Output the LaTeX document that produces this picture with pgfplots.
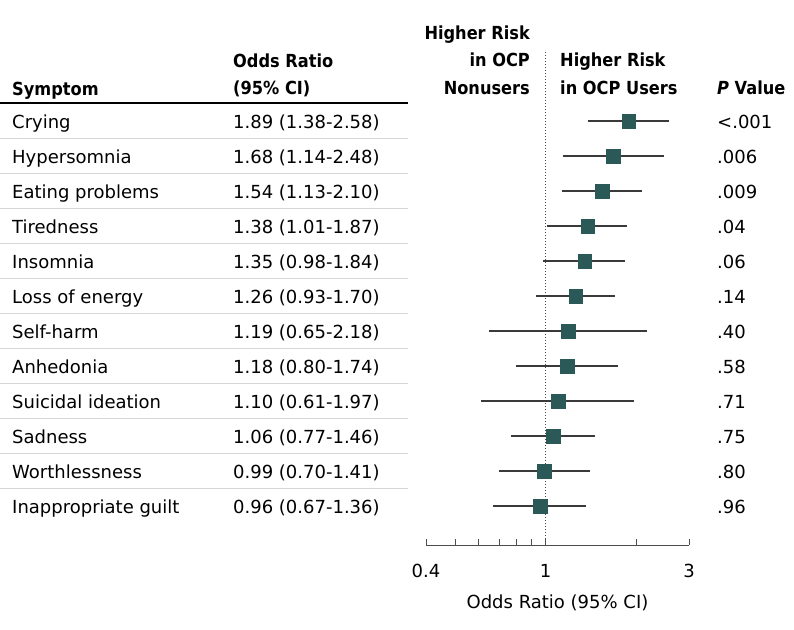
\documentclass[border=0pt]{standalone}
\usepackage{pgfplots}
\pgfplotsset{compat=1.18}
\usepackage{pgfplotstable}
\usepackage{fontspec}
\setmainfont{DejaVu Sans}[BoldFont=DejaVu Sans Bold, BoldFeatures={FakeStretch=0.9}, ItalicFont=DejaVu Sans Oblique, BoldItalicFont=DejaVu Sans Bold Oblique, BoldItalicFeatures={FakeStretch=0.9}]
\definecolor{sq}{HTML}{2A5957}
\definecolor{ci}{HTML}{3A3A3A}
\definecolor{sep}{HTML}{D6D6D6}
\pgfplotstableread{
y or lo hi
12 1.89 1.38 2.58
11 1.68 1.14 2.48
10 1.54 1.13 2.10
9 1.38 1.01 1.87
8 1.35 0.98 1.84
7 1.26 0.93 1.70
6 1.19 0.65 2.18
5 1.18 0.80 1.74
4 1.10 0.61 1.97
3 1.06 0.77 1.46
2 0.99 0.70 1.41
1 0.96 0.67 1.36
}\datatable
\begin{document}
\fontsize{18}{22}\selectfont
\begin{tikzpicture}
\useasboundingbox (0,0) rectangle (794pt,-629pt);
% header
\node[anchor=base west, inner sep=0, font=\bfseries] at (12pt,-95pt) {Symptom};
\node[anchor=base west, inner sep=0, font=\bfseries] at (233pt,-67pt) {Odds Ratio};
\node[anchor=base west, inner sep=0, font=\bfseries] at (233pt,-94pt) {(95\% CI)};
\node[anchor=base east, inner sep=0, font=\bfseries] at (530pt,-39pt) {Higher Risk};
\node[anchor=base east, inner sep=0, font=\bfseries] at (530pt,-66pt) {in OCP};
\node[anchor=base east, inner sep=0, font=\bfseries] at (530pt,-94pt) {Nonusers};
\node[anchor=base west, inner sep=0, font=\bfseries] at (560pt,-66pt) {Higher Risk};
\node[anchor=base west, inner sep=0, font=\bfseries] at (560pt,-94pt) {in OCP Users};
\node[anchor=base west, inner sep=0, font=\bfseries] at (717pt,-94pt) {{\itshape P} Value};
\draw[black, line width=2pt] (0,-103pt) -- (408pt,-103pt);
\foreach \k in {0,...,10} {
  \pgfmathsetmacro\yy{-138.5-35*\k}
  \draw[sep, line width=1pt] (0,\yy pt) -- (408pt,\yy pt);
}
\foreach \n/\name/\orr/\p in {
  0/Crying/1.89 (1.38-2.58)/\textless.001,
  1/Hypersomnia/1.68 (1.14-2.48)/.006,
  2/Eating problems/1.54 (1.13-2.10)/.009,
  3/Tiredness/1.38 (1.01-1.87)/.04,
  4/Insomnia/1.35 (0.98-1.84)/.06,
  5/Loss of energy/1.26 (0.93-1.70)/.14,
  6/Self-harm/1.19 (0.65-2.18)/.40,
  7/Anhedonia/1.18 (0.80-1.74)/.58,
  8/Suicidal ideation/1.10 (0.61-1.97)/.71,
  9/Sadness/1.06 (0.77-1.46)/.75,
  10/Worthlessness/0.99 (0.70-1.41)/.80,
  11/Inappropriate guilt/0.96 (0.67-1.36)/.96} {
  \pgfmathsetmacro\yy{-128-35*\n}
  \node[anchor=base west, inner sep=0] at (12pt,\yy pt) {\name};
  \node[anchor=base west, inner sep=0] at (233pt,\yy pt) {\orr};
  \node[anchor=base west, inner sep=0] at (717pt,\yy pt) {\p};
}
\begin{axis}[
  at={(426pt,-545pt)}, anchor=south west,
  scale only axis, width=263pt, height=495pt,
  xmode=log, xmin=0.4, xmax=3,
  ymin=-0.114, ymax=14.03,
  axis y line=none, axis x line*=bottom,
  xtick={0.4,1,3}, xticklabels={0.4,1,3},
  minor xtick={0.5,0.6,0.7,0.8,0.9,2},
  tick align=inside,
  major tick length=6pt, minor tick length=6pt,
  x axis line style={black!70, line width=1pt},
  every tick/.style={black!70, line width=1pt},
  xticklabel style={anchor=base, yshift=-32pt},
  xlabel={Odds Ratio (95\% CI)},
  xlabel style={at={(axis description cs:0.5,0)}, anchor=base, yshift=-63pt},
  clip=false,
]
\addplot[black!70, line width=1pt, dash pattern=on 1.2pt off 1.8pt] coordinates {(1,-0.114) (1,14.03)};
\addplot[ci, line width=1.2pt] coordinates {(1.38,12) (2.58,12)};
\addplot[ci, line width=1.2pt] coordinates {(1.14,11) (2.48,11)};
\addplot[ci, line width=1.2pt] coordinates {(1.13,10) (2.10,10)};
\addplot[ci, line width=1.2pt] coordinates {(1.01,9) (1.87,9)};
\addplot[ci, line width=1.2pt] coordinates {(0.98,8) (1.84,8)};
\addplot[ci, line width=1.2pt] coordinates {(0.93,7) (1.70,7)};
\addplot[ci, line width=1.2pt] coordinates {(0.65,6) (2.18,6)};
\addplot[ci, line width=1.2pt] coordinates {(0.80,5) (1.74,5)};
\addplot[ci, line width=1.2pt] coordinates {(0.61,4) (1.97,4)};
\addplot[ci, line width=1.2pt] coordinates {(0.77,3) (1.46,3)};
\addplot[ci, line width=1.2pt] coordinates {(0.70,2) (1.41,2)};
\addplot[ci, line width=1.2pt] coordinates {(0.67,1) (1.36,1)};
\addplot[only marks, mark=square*, mark size=6.8pt, mark options={fill=sq, draw=sq, line width=0.4pt}] table[x=or, y=y] {\datatable};
\end{axis}
\end{tikzpicture}
\end{document}
